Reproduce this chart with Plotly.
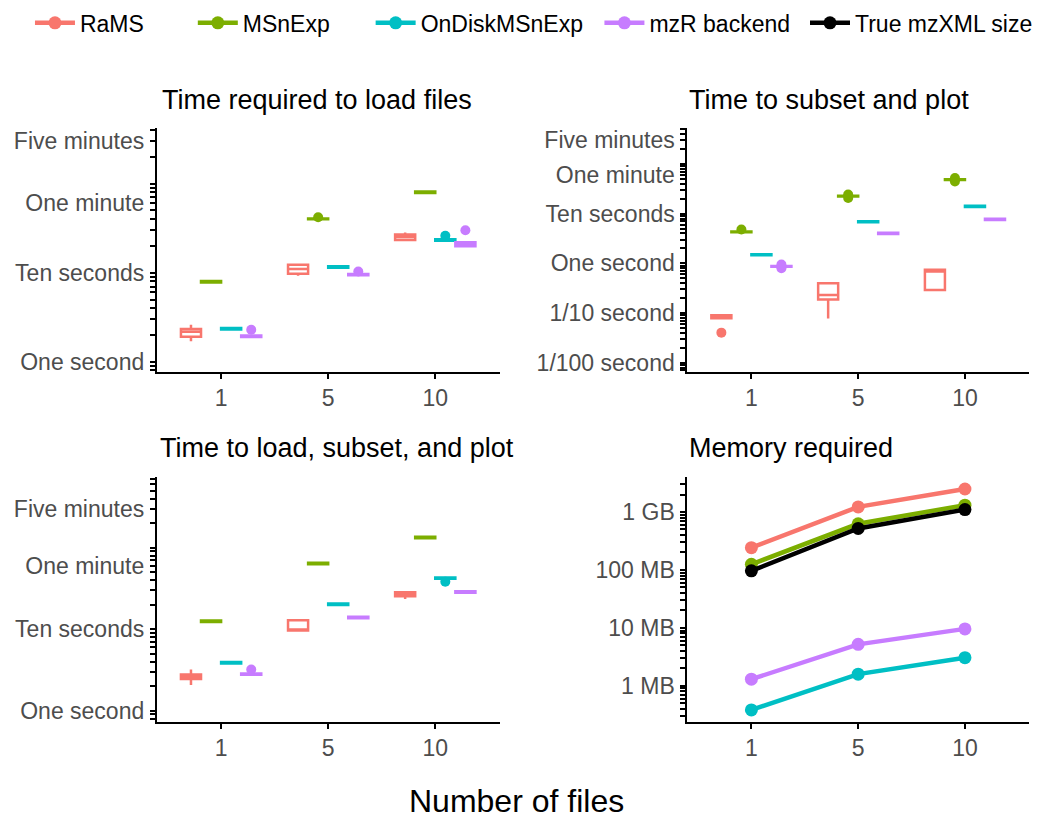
import math
import plotly.graph_objects as go

FONT = "Liberation Sans, Arial, sans-serif"
W, H = 1038, 818

files = ["1", "5", "10"]
series = ["RaMS", "MSnExp", "OnDiskMSnExp", "mzR backend"]
colors = {"RaMS": "#F8766D", "MSnExp": "#7CAE00", "OnDiskMSnExp": "#00BFC4",
          "mzR backend": "#C77CFF", "True mzXML size": "#000000"}

# Panel 1: seconds needed to load files (replicates per file count 1 / 5 / 10)
load_rams = [[1.70, 1.91, 2.17, 2.33, 2.60], [9.26, 9.75, 11.0, 12.3, 12.3], [23.2, 23.3, 25.1, 26.9, 28.3]]
load_msnexp = [[7.65, 7.75, 7.9, 8.05, 8.15], [39.4, 39.7, 40.1, 40.5, 41.8], [78.0, 78.5, 80.0, 81.5, 82.0]]
load_ondisk = [[2.28, 2.30, 2.34, 2.39, 2.40], [11.3, 11.4, 11.6, 11.85, 11.9], [22.8, 22.9, 23.3, 23.7, 26.0]]
load_mzr = [[1.88, 1.90, 1.93, 1.97, 2.29], [9.3, 9.35, 9.5, 9.7, 10.3], [19.7, 19.8, 20.8, 21.9, 30.0]]

# Panel 2: seconds needed to subset and plot
sub_rams = [[0.0404, 0.079, 0.0845, 0.090, 0.091], [0.078, 0.188, 0.23, 0.398, 0.398], [0.293, 0.293, 0.69, 0.747, 0.747]]
sub_msnexp = [[4.1, 4.22, 4.3, 4.4, 4.8], [20.8, 22.2, 22.6, 23.0, 24.4], [44.5, 47.9, 48.6, 49.4, 52.0]]
sub_ondisk = [[1.44, 1.46, 1.49, 1.53, 1.54], [6.7, 6.75, 6.9, 7.05, 7.1], [13.6, 13.7, 14.0, 14.4, 14.5]]
sub_mzr = [[0.80, 0.855, 0.87, 0.89, 0.95], [3.85, 3.9, 4.0, 4.15, 4.2], [7.45, 7.5, 7.7, 7.95, 8.0]]

# Panel 3: seconds needed to load, subset and plot
all_rams = [[2.06, 2.44, 2.6, 2.77, 3.19], [9.5, 9.64, 9.8, 12.9, 13.1], [23.4, 25.3, 26.7, 28.3, 28.3]]
all_msnexp = [[12.1, 12.25, 12.5, 12.8, 12.9], [62.0, 62.5, 63.8, 65.2, 65.5], [129.0, 130.5, 133.6, 136.5, 138.0]]
all_ondisk = [[3.74, 3.78, 3.85, 3.94, 3.97], [19.6, 19.8, 20.2, 20.6, 20.8], [38.2, 41.5, 42.2, 43.0, 43.3]]
all_mzr = [[2.72, 2.75, 2.8, 2.86, 3.2], [13.5, 13.6, 13.9, 14.2, 14.3], [27.6, 27.9, 28.5, 29.1, 29.4]]

# Panel 4: memory required (MB)
mem_rams = [242, 1223, 2490]
mem_msnexp = [125, 625, 1309]
mem_ondisk = [0.383, 1.59, 3.06]
mem_mzr = [1.30, 5.19, 9.6]
mem_true = [96.5, 519, 1099]

time_labels = {1: "One second", 10: "Ten seconds", 60: "One minute", 300: "Five minutes"}
time_labels_sub = {0.01: "1/100 second", 0.1: "1/10 second", 1: "One second", 10: "Ten seconds",
                   60: "One minute", 300: "Five minutes"}
mem_labels = {1: "1 MB", 10: "10 MB", 100: "100 MB", 1000: "1 GB"}

titles = ["Time required to load files", "Time to subset and plot",
          "Time to load, subset, and plot", "Memory required"]

fig = go.Figure()

panels = [
    ({"RaMS": load_rams, "MSnExp": load_msnexp, "OnDiskMSnExp": load_ondisk, "mzR backend": load_mzr}, "x", "y"),
    ({"RaMS": sub_rams, "MSnExp": sub_msnexp, "OnDiskMSnExp": sub_ondisk, "mzR backend": sub_mzr}, "x2", "y2"),
    ({"RaMS": all_rams, "MSnExp": all_msnexp, "OnDiskMSnExp": all_ondisk, "mzR backend": all_mzr}, "x3", "y3"),
]
for data, xa, ya in panels:
    for s in series:
        vals = data[s]
        xs = [files[i] for i in range(len(files)) for _ in vals[i]]
        ys = [v for grp in vals for v in grp]
        fig.add_trace(go.Box(
            x=xs, y=ys, xaxis=xa, yaxis=ya, name=s, offsetgroup=s,
            quartilemethod="inclusive",
            line=dict(color=colors[s], width=2.5), fillcolor="white",
            marker=dict(color=colors[s], size=10, line=dict(width=0)),
            boxpoints="outliers", pointpos=0, jitter=0, whiskerwidth=0,
            showlegend=False, hoverinfo="skip"))

mem = [("RaMS", mem_rams), ("MSnExp", mem_msnexp), ("OnDiskMSnExp", mem_ondisk),
       ("mzR backend", mem_mzr), ("True mzXML size", mem_true)]
for i, (s, vals) in enumerate(mem):
    fig.add_trace(go.Scatter(
        x=files, y=vals, xaxis="x4", yaxis="y4", name=s, mode="lines+markers",
        line=dict(color=colors[s], width=4.5), marker=dict(color=colors[s], size=13),
        legend="legend" if i == 0 else f"legend{i+1}", showlegend=True))


def log_ticks(lo, hi, labels):
    vals, text = [], []
    for k in range(math.floor(lo), math.ceil(hi) + 1):
        for m in range(1, 10):
            v = m * 10 ** k
            if lo <= math.log10(v) <= hi:
                vals.append(v)
                key = round(v, 6)
                key = int(key) if key >= 1 else key
                text.append(labels.get(key, ""))
    return vals, text


def px_x(a, b):
    return [a / W, b / W]


def px_y(top, bottom):
    return [1 - bottom / H, 1 - top / H]


xdom = [px_x(157, 500), px_x(688, 1030), px_x(157, 500), px_x(688, 1030)]
ydom = [px_y(128, 373), px_y(128, 373), px_y(479, 725), px_y(479, 725)]
yranges = [[-0.111, 2.621], [-2.18, 2.72], [-0.134, 2.866], [-0.617, 3.602]]
ylabels = [time_labels, time_labels_sub, time_labels, mem_labels]

axis_common = dict(showline=True, linecolor="black", linewidth=2, showgrid=False, zeroline=False,
                   ticks="outside", ticklen=5, tickwidth=1.5, tickcolor="black",
                   tickfont=dict(family=FONT, size=23, color="#4D4D4D"))
layout = {}
for i in range(4):
    sx = "" if i == 0 else str(i + 1)
    tv, tt = log_ticks(yranges[i][0], yranges[i][1], ylabels[i])
    layout[f"xaxis{sx}"] = dict(domain=xdom[i], anchor=f"y{sx}", type="category",
                                categoryorder="array", categoryarray=files,
                                range=[-0.6, 2.6], **axis_common)
    layout[f"yaxis{sx}"] = dict(domain=ydom[i], anchor=f"x{sx}", type="log", range=yranges[i],
                                tickmode="array", tickvals=tv, ticktext=tt,
                                ticklabelstandoff=1, **axis_common)

legend_x = [30, 193, 371, 600, 806]
for i, lx in enumerate(legend_x):
    key = "legend" if i == 0 else f"legend{i+1}"
    layout[key] = dict(x=lx / W, xanchor="left", y=1 - 22 / H, yanchor="middle",
                       orientation="h", bgcolor="rgba(0,0,0,0)", itemwidth=40,
                       font=dict(family=FONT, size=23, color="black"))

title_pos = [(160, 100), (688, 100), (158, 450), (688, 450)]
annotations = []
for t, (tx, ty) in zip(titles, title_pos):
    annotations.append(dict(text=t, x=tx / W, y=1 - ty / H, xref="paper", yref="paper",
                            xanchor="left", yanchor="middle", showarrow=False,
                            font=dict(family=FONT, size=27, color="black")))
annotations.append(dict(text="Number of files", x=517 / W, y=1 - 805 / H, xref="paper", yref="paper",
                        xanchor="center", yanchor="middle", showarrow=False,
                        font=dict(family=FONT, size=32, color="black")))

fig.update_layout(
    width=W, height=H, margin=dict(l=0, r=0, t=0, b=0),
    paper_bgcolor="white", plot_bgcolor="white",
    font=dict(family=FONT, color="black"),
    boxmode="group", boxgap=0.25, boxgroupgap=0.0,
    annotations=annotations, **layout)

fig.write_html("out.html")
